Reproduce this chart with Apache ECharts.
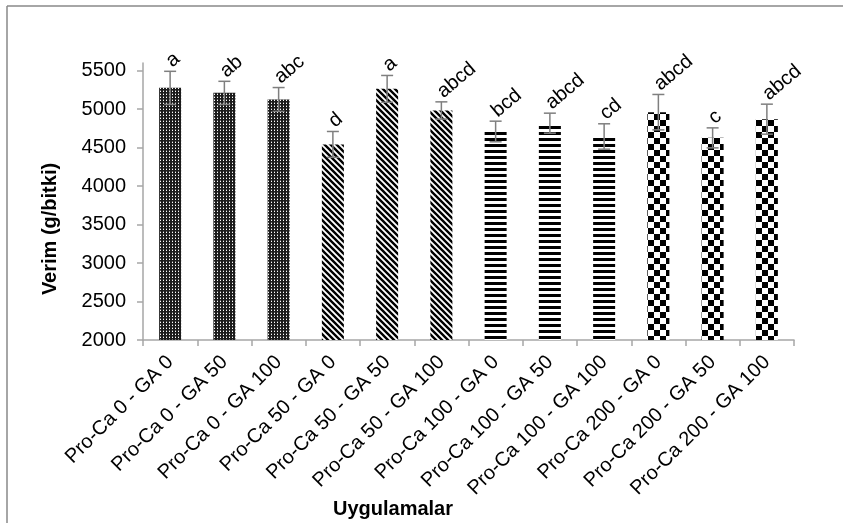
<!DOCTYPE html>
<html><head><meta charset="utf-8">
<script src="https://cdn.jsdelivr.net/npm/echarts@6/dist/echarts.min.js"></script>
<style>html,body{margin:0;padding:0;background:#fff}#c{width:843px;height:523px}</style>
</head><body><div id="c"></div>
<script>
const categories = ['Pro-Ca 0 - GA 0','Pro-Ca 0 - GA 50','Pro-Ca 0 - GA 100','Pro-Ca 50 - GA 0','Pro-Ca 50 - GA 50','Pro-Ca 50 - GA 100','Pro-Ca 100 - GA 0','Pro-Ca 100 - GA 50','Pro-Ca 100 - GA 100','Pro-Ca 200 - GA 0','Pro-Ca 200 - GA 50','Pro-Ca 200 - GA 100'];
const means = [5277, 5212, 5126, 4542, 5264, 4983, 4710, 4818, 4645, 4961, 4627, 4870];
const errors = [215, 150, 155, 168, 174, 112, 134, 130, 165, 230, 130, 195];
const letters = ['a','ab','abc','d','a','abcd','bcd','abcd','cd','abcd','c','abcd'];
const patternGroup = [0,0,0,1,1,1,2,2,2,3,3,3];
const yTicks = [2000,2500,3000,3500,4000,4500,5000,5500];

function makePattern(kind){
  const c = document.createElement('canvas');
  let s;
  if(kind===0){ s=3; c.width=s; c.height=s; const g=c.getContext('2d');
    g.fillStyle='#1c1c1c'; g.fillRect(0,0,s,s); g.fillStyle='#ffffff'; g.fillRect(1,1,1,1); g.fillStyle='#6a6a6a'; g.fillRect(1,0,1,1);}
  else if(kind===1){ s=6; c.width=s; c.height=s; const g=c.getContext('2d');
    g.fillStyle='#fff'; g.fillRect(0,0,s,s); g.strokeStyle='#000'; g.lineWidth=2.4;
    g.beginPath(); g.moveTo(-1,-1); g.lineTo(s+1,s+1); g.moveTo(-1,s-1); g.lineTo(1,s+1); g.moveTo(s-1,-1); g.lineTo(s+1,1); g.stroke();}
  else if(kind===2){ s=6; c.width=s; c.height=s; const g=c.getContext('2d');
    g.fillStyle='#fff'; g.fillRect(0,0,s,s); g.fillStyle='#000'; g.fillRect(0,0,s,3);}
  else { s=12; c.width=s; c.height=s; const g=c.getContext('2d');
    g.fillStyle='#fff'; g.fillRect(0,0,s,s); g.fillStyle='#000'; g.fillRect(0,0,6,6); g.fillRect(6,6,6,6);}
  return {image:c, repeat:'repeat'};
}
const patterns = [0,1,2,3].map(makePattern);

const chart = echarts.init(document.getElementById('c'), null, {renderer:'canvas'});
const FONT = '"Liberation Sans", Arial, sans-serif';
const ROT = 40 * Math.PI / 180;
chart.setOption({
  animation:false,
  backgroundColor:'#fff',
  grid:{left:143, right:49, top:63, bottom:183, containLabel:false},
  xAxis:{type:'category', data:categories, boundaryGap:true,
    axisLine:{lineStyle:{color:'#a6a6a6', width:1.5}},
    axisTick:{show:true, length:6, interval:0, lineStyle:{color:'#a6a6a6', width:1.5}},
    axisLabel:{interval:0, rotate:45, margin:19, color:'#000', fontSize:20, fontFamily:FONT}},
  yAxis:{type:'value', min:2000, max:5600, interval:500,
    axisLine:{show:true, lineStyle:{color:'#a6a6a6', width:1.5}},
    axisTick:{show:true, length:6, customValues:yTicks, lineStyle:{color:'#a6a6a6', width:1.5}},
    splitLine:{show:false},
    axisLabel:{customValues:yTicks, formatter:function(v){return String(v);}, margin:17, color:'#000', fontSize:20, fontFamily:FONT}},
  graphic:[
    {type:'line', shape:{x1:7, y1:6, x2:7, y2:523}, style:{stroke:'#888', lineWidth:1.5}},
    {type:'line', shape:{x1:7, y1:6, x2:843, y2:6}, style:{stroke:'#888', lineWidth:1.5}},
    {type:'text', x:50, y:229, rotation:Math.PI/2, style:{text:'Verim (g/bitki)', font:'bold 20px '+FONT, fill:'#000', align:'center', verticalAlign:'middle'}},
    {type:'text', x:393, y:509, style:{text:'Uygulamalar', font:'bold 20px '+FONT, fill:'#000', align:'center', verticalAlign:'middle'}}
  ],
  series:[
    {type:'bar', barWidth:22,
     data: means.map((v,i)=>({value:v, itemStyle:{color:patterns[patternGroup[i]]}}))},
    {type:'custom', z:5,
     data: means.map((v,i)=>[i, v, errors[i]]),
     renderItem:function(params, api){
       const i = api.value(0), m = api.value(1), e = api.value(2);
       const top = api.coord([i, m+e]), bot = api.coord([i, m-e]);
       const cx = top[0], hw = 6;
       const ls = {stroke:'#7f7f7f', lineWidth:1.5};
       return {type:'group', children:[
         {type:'line', shape:{x1:cx, y1:top[1], x2:cx, y2:bot[1]}, style:ls},
         {type:'line', shape:{x1:cx-hw, y1:top[1], x2:cx+hw, y2:top[1]}, style:ls},
         {type:'line', shape:{x1:cx-hw, y1:bot[1], x2:cx+hw, y2:bot[1]}, style:ls},
         {type:'text', x:cx+5, y:top[1], rotation:ROT,
          style:{text:letters[params.dataIndex], x:0, y:0, align:'left', verticalAlign:'bottom', font:'20px '+FONT, fill:'#000'}}
       ]};
     }}
  ]
});
</script></body></html>
